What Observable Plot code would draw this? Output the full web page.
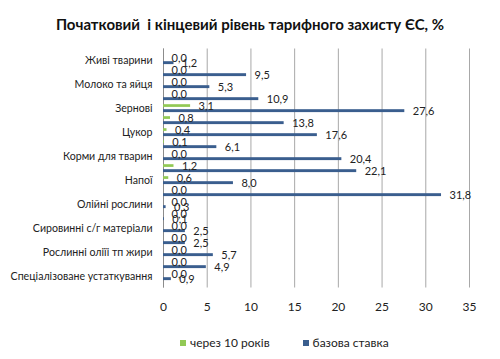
<!DOCTYPE html>
<html><head><meta charset="utf-8">
<script src="https://cdn.jsdelivr.net/npm/d3@7"></script>
<script src="https://cdn.jsdelivr.net/npm/@observablehq/plot@0.6"></script>
<style>
body{margin:0;background:#fff;font-family:Lato,sans-serif;color:#222;width:500px;height:359px;overflow:hidden;}
#title{height:40px;line-height:49px;text-align:center;font-weight:bold;font-size:15px;white-space:pre;color:#111;}
#legend{height:39px;display:flex;align-items:center;padding-left:180px;padding-top:6px;box-sizing:border-box;font-size:12px;color:#222;}
#legend .sw{display:inline-block;width:6px;height:6px;margin-right:4px;}
#legend .item{display:flex;align-items:center;}
</style></head><body>
<div id="title">Початковий  і кінцевий рівень тарифного захисту ЄС, %</div>
<div id="chart"></div>
<div id="legend"></div>
<script>
const categories = ["Живі тварини", "", "Молоко та яйця", "", "Зернові", "", "Цукор", "", "Корми для тварин", "", "Напої", "", "Олійні рослини", "", "Сировинні с/г матеріали", "", "Рослинні оліїі тп жири", "", "Спеціалізоване устаткування"];
const after10 = [0, 0, 0, 0, 3.1, 0.8, 0.4, 0.1, 0, 1.2, 0.6, 0, 0, 0, 0, 0, 0, 0, 0];
const baseRate = [1.2, 9.5, 5.3, 10.9, 27.6, 13.8, 17.6, 6.1, 20.4, 22.1, 8.0, 31.8, 0.3, 0.1, 2.5, 2.5, 5.7, 4.9, 0.9];
const seriesNames = ["через 10 років", "базова ставка"];
const xTicks = [0, 5, 10, 15, 20, 25, 30, 35];
const colors = ["#92c955", "#3a5e8e"];

const rows = categories.map((c, i) => ({i, g: after10[i], b: baseRate[i]}));
const fmt = v => v.toFixed(1).replace(".", ",");

const chart = Plot.plot({
  width: 500,
  height: 280,
  marginTop: 8.5,
  marginBottom: 32.5,
  marginLeft: 163,
  marginRight: 31,
  style: {fontFamily: "Lato, sans-serif", color: "#222", background: "#fff"},
  x: {domain: [0, 35], label: null},
  y: {type: "band", domain: d3.range(categories.length), padding: 0, label: null},
  marks: [
    Plot.gridX(xTicks, {stroke: "#a8a8a8", strokeOpacity: 1}),
    Plot.ruleX([0], {stroke: "#8c8c8c"}),
    Plot.barX(rows, {x: "g", y: "i", fill: colors[0], insetTop: 2.2, insetBottom: 7.1}),
    Plot.barX(rows, {x: "b", y: "i", fill: colors[1], insetTop: 7.2, insetBottom: 1.9}),
    Plot.text(rows, {x: "g", y: "i", text: d => fmt(d.g), dx: 8, dy: -2.5, textAnchor: "start", fontSize: 11, fill: "#222"}),
    Plot.text(rows, {x: "b", y: "i", text: d => fmt(d.b), dx: 8, dy: 2.6, textAnchor: "start", fontSize: 11, fill: "#222"}),
    Plot.axisY({tickSize: 0, tickPadding: 11, fontSize: 10.6, label: null, tickFormat: i => categories[i]}),
    Plot.axisX({ticks: xTicks, tickSize: 0, tickPadding: 14, fontSize: 12, label: null, tickFormat: d => String(d)})
  ]
});
document.getElementById("chart").appendChild(chart);

const legend = document.getElementById("legend");
seriesNames.forEach((name, k) => {
  const item = document.createElement("span");
  item.className = "item";
  if (k > 0) item.style.marginLeft = "33px";
  const sw = document.createElement("span");
  sw.className = "sw";
  sw.style.background = colors[k];
  item.appendChild(sw);
  item.appendChild(document.createTextNode(name));
  legend.appendChild(item);
});
</script>
</body></html>
